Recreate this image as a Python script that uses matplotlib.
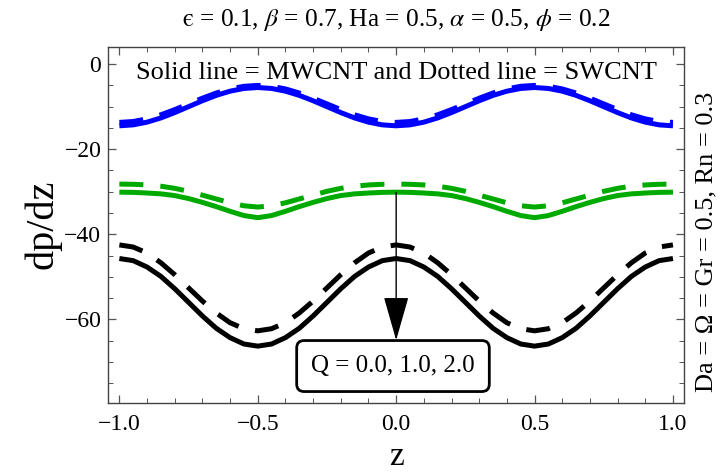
import matplotlib
matplotlib.use("Agg")
import matplotlib.pyplot as plt
from matplotlib.ticker import MultipleLocator, FuncFormatter

plt.rcParams['font.family'] = ['Liberation Serif', 'DejaVu Serif']
plt.rcParams['mathtext.fontset'] = 'stix'

# axial coordinate, step 0.05 from -1 to 1
z = [-1.0, -0.95, -0.9, -0.85, -0.8, -0.75, -0.7, -0.65, -0.6, -0.55, -0.5,
     -0.45, -0.4, -0.35, -0.3, -0.25, -0.2, -0.15, -0.1, -0.05, 0.0,
     0.05, 0.1, 0.15, 0.2, 0.25, 0.3, 0.35, 0.4, 0.45, 0.5,
     0.55, 0.6, 0.65, 0.7, 0.75, 0.8, 0.85, 0.9, 0.95, 1.0]

# pressure gradient, Q = 0.0 (MWCNT solid / SWCNT dashed)
q0_mwcnt = [-14.5, -14.28, -13.64, -12.65, -11.39, -10.0, -8.61, -7.35, -6.36, -5.72, -5.5,
            -5.72, -6.36, -7.35, -8.61, -10.0, -11.39, -12.65, -13.64, -14.28, -14.5,
            -14.28, -13.64, -12.65, -11.39, -10.0, -8.61, -7.35, -6.36, -5.72, -5.5,
            -5.72, -6.36, -7.35, -8.61, -10.0, -11.39, -12.65, -13.64, -14.28, -14.5]
q0_swcnt = [-13.7, -13.49, -12.87, -11.91, -10.69, -9.35, -8.01, -6.79, -5.83, -5.21, -5.0,
            -5.21, -5.83, -6.79, -8.01, -9.35, -10.69, -11.91, -12.87, -13.49, -13.7,
            -13.49, -12.87, -11.91, -10.69, -9.35, -8.01, -6.79, -5.83, -5.21, -5.0,
            -5.21, -5.83, -6.79, -8.01, -9.35, -10.69, -11.91, -12.87, -13.49, -13.7]

# Q = 1.0
q1_mwcnt = [-30.1, -30.15, -30.3, -30.5, -30.9, -31.6, -32.5, -33.5, -34.6, -35.6, -36.1,
            -35.6, -34.6, -33.5, -32.5, -31.6, -30.9, -30.5, -30.3, -30.15, -30.1,
            -30.15, -30.3, -30.5, -30.9, -31.6, -32.5, -33.5, -34.6, -35.6, -36.1,
            -35.6, -34.6, -33.5, -32.5, -31.6, -30.9, -30.5, -30.3, -30.15, -30.1]
q1_swcnt = [-28.2, -28.25, -28.4, -28.7, -29.2, -29.9, -30.8, -31.7, -32.6, -33.3, -33.6,
            -33.3, -32.6, -31.7, -30.8, -29.9, -29.2, -28.7, -28.4, -28.25, -28.2,
            -28.25, -28.4, -28.7, -29.2, -29.9, -30.8, -31.7, -32.6, -33.3, -33.6,
            -33.3, -32.6, -31.7, -30.8, -29.9, -29.2, -28.7, -28.4, -28.25, -28.2]

# Q = 2.0
q2_mwcnt = [-45.7, -46.2, -47.7, -49.9, -52.8, -56.0, -59.2, -62.1, -64.3, -65.8, -66.3,
            -65.8, -64.3, -62.1, -59.2, -56.0, -52.8, -49.9, -47.7, -46.2, -45.7,
            -46.2, -47.7, -49.9, -52.8, -56.0, -59.2, -62.1, -64.3, -65.8, -66.3,
            -65.8, -64.3, -62.1, -59.2, -56.0, -52.8, -49.9, -47.7, -46.2, -45.7]
q2_swcnt = [-42.5, -43.0, -44.4, -46.7, -49.5, -52.6, -55.7, -58.5, -60.8, -62.2, -62.7,
            -62.2, -60.8, -58.5, -55.7, -52.6, -49.5, -46.7, -44.4, -43.0, -42.5,
            -43.0, -44.4, -46.7, -49.5, -52.6, -55.7, -58.5, -60.8, -62.2, -62.7,
            -62.2, -60.8, -58.5, -55.7, -52.6, -49.5, -46.7, -44.4, -43.0, -42.5]

series = [(q0_mwcnt, q0_swcnt, '#0000FF'),
          (q1_mwcnt, q1_swcnt, '#00AA00'),
          (q2_mwcnt, q2_swcnt, '#000000')]

title_text = "$\\mathrm{\u03f5}$ = 0.1, $\\beta$ = 0.7, Ha = 0.5, $\\alpha$ = 0.5, $\\phi$ = 0.2"
side_text = "Da = Ω = Gr = 0.5, Rn = 0.3"
legend_text = "Solid line = MWCNT and Dotted line = SWCNT"
q_label = "Q = 0.0, 1.0, 2.0"
arrow_from = -30.2
arrow_to = -64.9

fig = plt.figure(figsize=(7.22, 4.74), dpi=100)
ax = fig.add_axes([0.150, 0.1504, 0.7974, 0.7511])

lw = 3.6
for solid, dashed, col in series:
    ax.plot(z, solid, color=col, lw=lw, solid_capstyle='butt', solid_joinstyle='round')
    ax.plot(z, dashed, color=col, lw=lw, ls=(0, (4.8, 3.4)), dash_capstyle='butt')

ax.set_xlim(-1.04, 1.04)
ax.set_ylim(-79.6, 4.1)

ax.xaxis.set_major_locator(MultipleLocator(0.5))
ax.xaxis.set_minor_locator(MultipleLocator(0.1))
ax.yaxis.set_major_locator(MultipleLocator(20))
ax.yaxis.set_minor_locator(MultipleLocator(5))
ax.xaxis.set_major_formatter(FuncFormatter(lambda v, p: f"{v:.1f}".replace('-', '\u2212')))
ax.yaxis.set_major_formatter(FuncFormatter(lambda v, p: f"{v:.0f}".replace('-', '\u2212')))

ax.tick_params(which='both', direction='in', top=True, right=True,
               color='#555555', labelcolor='black', labelsize=17)
ax.tick_params(which='major', length=6, width=0.9)
ax.tick_params(which='minor', length=3.5, width=0.7)
ax.tick_params(axis='x', pad=8)
ax.tick_params(axis='y', pad=5)
for s in ax.spines.values():
    s.set_color('#444444')
    s.set_linewidth(1.0)

ax.set_xlabel('z', fontsize=24, labelpad=5)
ax.set_ylabel('dp/dz', fontsize=29, labelpad=2)

fig.text(0.5485, 0.958, title_text, ha='center', va='center', fontsize=18.3)
fig.text(0.978, 0.49, side_text, ha='center', va='center', rotation=90, fontsize=19)
ax.text(0.5, 0.926, legend_text, transform=ax.transAxes, ha='center', va='center',
        fontsize=19)

ax.annotate('', xy=(0, arrow_to), xytext=(0, arrow_from),
            arrowprops=dict(arrowstyle='-|>,head_length=1.4,head_width=0.4',
                            mutation_scale=20, lw=1, color='black',
                            shrinkA=0, shrinkB=0))
ax.text(0.4945, 0.103, q_label, transform=ax.transAxes, ha='center', va='center',
        fontsize=18,
        bbox=dict(boxstyle='round,pad=0.58,rounding_size=0.3', fc='white',
                  ec='black', lw=2))

fig.savefig('out.png', dpi=100)
